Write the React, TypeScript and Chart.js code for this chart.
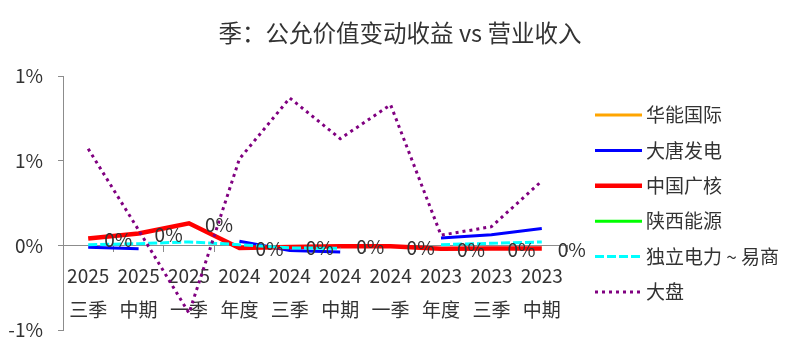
import React, { useEffect, useRef } from 'react';
import { Chart, registerables } from 'chart.js';

Chart.register(...registerables);

const FONT = '"Noto Sans CJK SC", "Noto Sans", sans-serif';
const TEXT = '#333333';
const AXIS = '#8c8c8c';

const title = '季：公允价值变动收益 vs 营业收入';
const categories = [
  ['2025', '三季'], ['2025', '中期'], ['2025', '一季'], ['2024', '年度'], ['2024', '三季'],
  ['2024', '中期'], ['2024', '一季'], ['2023', '年度'], ['2023', '三季'], ['2023', '中期'],
];
const seriesNames = ['华能国际', '大唐发电', '中国广核', '陕西能源', '独立电力 ~ 易商', '大盘'];
const huaneng = [null, null, null, null, null, null, null, null, null, null];
const datang = [-0.012, -0.02, null, 0.024, -0.03, -0.04, null, 0.043, 0.063, 0.1];
const cgn = [0.04, 0.07, 0.13, -0.016, -0.01, -0.005, -0.006, -0.02, -0.018, -0.018];
const shaanxi = [null, null, null, null, null, null, null, null, null, null];
const duli = [0.004, 0.01, 0.02, 0.004, -0.015, -0.018, null, 0.004, 0.012, 0.02];
const dapan = [0.57, 0.09, -0.4, 0.51, 0.87, 0.63, 0.83, 0.06, 0.11, 0.38];
const yMin = -0.5;
const yMax = 1.0;
const yStep = 0.5;

const fmtPct = (v: number) => {
  const r = Math.sign(v) * Math.round(Math.abs(v));
  return (r === 0 ? 0 : r) + '%';
};

const labelPlugin = {
  id: 'cgnLabels',
  afterDatasetsDraw(chart: any) {
    const idx = 2;
    const meta = chart.getDatasetMeta(idx);
    const data = chart.data.datasets[idx].data;
    const ctx = chart.ctx;
    ctx.save();
    ctx.font = `19px ${FONT}`;
    ctx.fillStyle = TEXT;
    ctx.textAlign = 'left';
    ctx.textBaseline = 'middle';
    meta.data.forEach((pt: any, i: number) => {
      const v = data[i];
      if (v === null || v === undefined) return;
      ctx.fillText(fmtPct(v), pt.x + 16, pt.y + 1);
    });
    ctx.restore();
  },
};

const legendPlugin = {
  id: 'customLegend',
  afterDraw(chart: any) {
    const ctx = chart.ctx;
    ctx.save();
    chart.data.datasets.forEach((ds: any, i: number) => {
      const y = 115 + i * 35.4;
      ctx.beginPath();
      ctx.strokeStyle = ds.borderColor;
      ctx.lineWidth = ds.borderWidth;
      ctx.lineCap = 'butt';
      ctx.setLineDash(ds.borderDash || []);
      ctx.moveTo(595, y);
      ctx.lineTo(642, y);
      ctx.stroke();
      ctx.setLineDash([]);
      ctx.font = `19px ${FONT}`;
      ctx.fillStyle = TEXT;
      ctx.textAlign = 'left';
      ctx.textBaseline = 'middle';
      ctx.fillText(ds.label, 646, y);
    });
    ctx.restore();
  },
};

export default function App() {
  const ref = useRef<HTMLCanvasElement>(null);
  useEffect(() => {
    document.body.style.margin = '0';
    if (!ref.current) return;
    const mk = (i: number, data: any[], color: string, width: number, dash: number[] = []) => ({
      label: seriesNames[i],
      data,
      borderColor: color,
      backgroundColor: color,
      borderWidth: width,
      borderDash: dash,
      borderCapStyle: 'butt',
      pointRadius: 0,
      pointHoverRadius: 0,
      tension: 0,
      fill: false,
      order: -i,
    });
    const chart = new Chart(ref.current, {
      type: 'line',
      data: {
        labels: categories,
        datasets: [
          mk(0, huaneng, '#FFA500', 3),
          mk(1, datang, '#0000FF', 3),
          mk(2, cgn, '#FF0000', 4.5),
          mk(3, shaanxi, '#00FF00', 3),
          mk(4, duli, '#00FFFF', 3, [9, 3]),
          mk(5, dapan, '#800080', 3, [3, 4]),
        ] as any,
      },
      options: {
        responsive: false,
        animation: false,
        layout: { padding: { top: 0, left: 0, right: 0, bottom: 23 } },
        plugins: {
          legend: { display: false },
          tooltip: { enabled: false },
          title: {
            display: true,
            text: title,
            color: TEXT,
            font: { family: FONT, size: 23.5, weight: 'normal' as any, lineHeight: 1.2 },
            padding: { top: 19, bottom: 28.8 },
          },
        },
        scales: {
          x: {
            type: 'category',
            position: { y: 0 } as any,
            offset: true,
            grid: { display: true, drawOnChartArea: false, offset: true, tickLength: 6, color: AXIS },
            border: { display: true, color: AXIS, width: 1 },
            ticks: {
              autoSkip: false,
              maxRotation: 0,
              color: TEXT,
              padding: 7,
              font: { family: FONT, size: 19, lineHeight: '34px' as any },
            },
            afterFit: (s: any) => { s.paddingLeft = 0; s.paddingRight = 233; },
          },
          y: {
            type: 'linear',
            min: yMin,
            max: yMax,
            grid: { display: true, drawOnChartArea: false, tickLength: 5, color: AXIS },
            border: { display: true, color: AXIS, width: 1 },
            ticks: {
              stepSize: yStep,
              color: TEXT,
              padding: 15,
              font: { family: FONT, size: 19 },
              callback: (v: any) => fmtPct(Number(v)),
            },
            afterFit: (s: any) => { s.width = 63; s.paddingTop = 0; s.paddingBottom = 0; },
          },
        },
      },
      plugins: [labelPlugin, legendPlugin],
    });
    return () => chart.destroy();
  }, []);
  return (
    <div style={{ width: 800, height: 353 }}>
      <canvas ref={ref} width={800} height={353} style={{ display: 'block' }} />
    </div>
  );
}
